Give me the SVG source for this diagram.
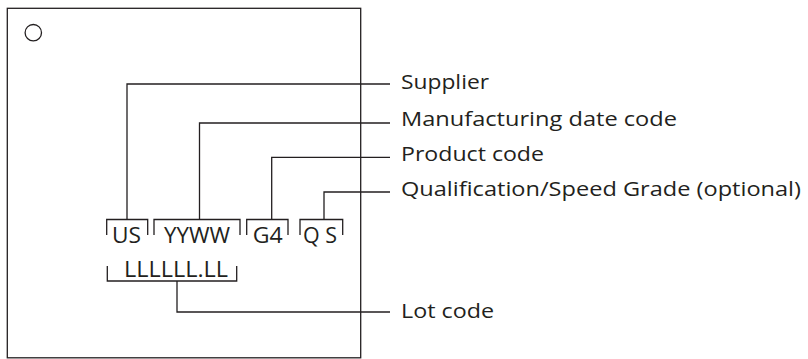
<svg xmlns="http://www.w3.org/2000/svg" width="808" height="359" viewBox="0 0 808 359">
<style>
.ln{fill:none;stroke:#231f20;stroke-width:1.3}
.t{font-family:"Open Sans","DejaVu Sans",sans-serif;font-size:19.5px;fill:#231f20}
.c{font-family:"Open Sans","DejaVu Sans",sans-serif;font-size:21px;fill:#231f20}
</style>
<rect width="808" height="359" fill="#fff"/>
<g id="package">
<rect class="ln" x="7.3" y="8.3" width="353.4" height="349.5"/>
<circle class="ln" cx="33.3" cy="32.7" r="8.2"/>
</g>
<g id="codes">
<path class="ln" d="M106.7,235 V219.5 H147.7 V235"/>
<text class="c" x="112" y="243" textLength="29" lengthAdjust="spacingAndGlyphs">US</text>
<path class="ln" d="M154,235 V219.5 H240 V235"/>
<text class="c" x="164" y="243" textLength="66" lengthAdjust="spacingAndGlyphs">YYWW</text>
<path class="ln" d="M246.7,235 V219.5 H288 V235"/>
<text class="c" x="252.7" y="243" textLength="30" lengthAdjust="spacingAndGlyphs">G4</text>
<path class="ln" d="M300,235 V219.5 H342.7 V235"/>
<text class="c" x="303" y="243" textLength="34" lengthAdjust="spacingAndGlyphs">Q S</text>
<path class="ln" d="M107.3,266 V281 H236.7 V266"/>
<text class="c" x="124" y="277" textLength="104" lengthAdjust="spacingAndGlyphs">LLLLLL.LL</text>
</g>
<g id="connectors">
<path class="ln" d="M127,219.5 V84 H390"/>
<path class="ln" d="M199.5,219.5 V123 H390"/>
<path class="ln" d="M271.7,219.5 V157.3 H390"/>
<path class="ln" d="M324,219.5 V192 H390"/>
<path class="ln" d="M177,281 V312 H390"/>
</g>
<g id="labels">
<text class="t" x="401" y="89" textLength="88" lengthAdjust="spacingAndGlyphs">Supplier</text>
<text class="t" x="401" y="126" textLength="276" lengthAdjust="spacingAndGlyphs">Manufacturing date code</text>
<text class="t" x="401" y="161" textLength="143" lengthAdjust="spacingAndGlyphs">Product code</text>
<text class="t" x="401" y="196" textLength="400" lengthAdjust="spacingAndGlyphs">Qualification/Speed Grade (optional)</text>
<text class="t" x="401" y="318" textLength="93" lengthAdjust="spacingAndGlyphs">Lot code</text>
</g>
</svg>
